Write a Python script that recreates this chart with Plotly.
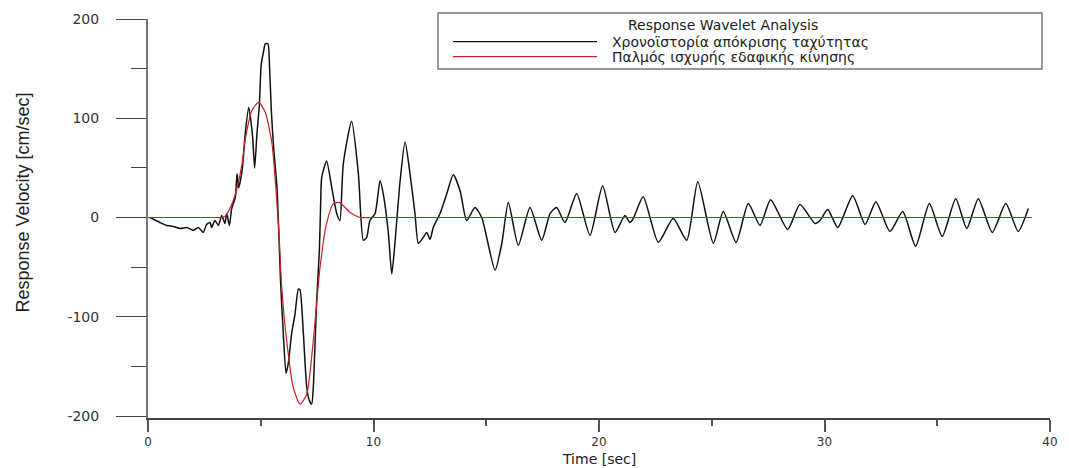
import plotly.graph_objects as go

# Response velocity time history (sec, cm/sec)
resp_time = [0.08, 0.53, 0.83, 1.12, 1.42, 1.72, 2.01, 2.23, 2.45, 2.60, 2.75, 2.82,
             2.97, 3.12, 3.27, 3.41, 3.49, 3.61, 3.71, 3.87, 3.95, 4.02, 4.17, 4.24,
             4.31, 4.47, 4.58, 4.64, 4.73, 4.83, 4.94, 5.02, 5.13, 5.20, 5.32, 5.38,
             5.47, 5.57, 5.72, 5.80, 5.88, 6.00, 6.12, 6.22, 6.37, 6.52, 6.67, 6.74,
             6.89, 7.04, 7.15, 7.26, 7.33, 7.48, 7.60, 7.66, 7.70, 7.92, 8.15, 8.37,
             8.51, 8.66, 9.03, 9.33, 9.55, 9.70, 9.84, 10.07, 10.29, 10.43, 10.66, 10.81,
             10.95, 11.18, 11.40, 11.62, 11.84, 11.99, 12.21, 12.36, 12.51, 12.65, 12.95, 13.25,
             13.54, 13.84, 14.13, 14.50, 14.80, 15.39, 15.69, 15.98, 16.42, 16.94, 17.46, 17.83,
             18.12, 18.49, 19.01, 19.60, 20.16, 20.71, 21.15, 21.37, 21.52, 21.96, 22.63, 23.29,
             23.89, 24.38, 25.07, 25.51, 26.08, 26.62, 27.14, 27.61, 28.37, 28.91, 29.58, 29.80,
             30.14, 30.59, 31.25, 31.80, 32.28, 32.90, 33.47, 34.04, 34.65, 35.22, 35.82, 36.31,
             36.82, 37.44, 38.04, 38.59, 39.04]
resp_vel = [0, -5, -8, -9, -11, -10, -13, -10, -15, -7, -5, -10,
            -3, -8, 2, -6, 4, -8, 9, 20, 44, 30, 47, 64,
            84, 111, 94, 81, 50, 84, 114, 154, 168, 175, 175, 158,
            107, 71, 30, -15, -65, -117, -157, -147, -117, -97, -72, -73,
            -117, -171, -184, -188, -171, -84, -33, 17, 40, 57, 30, 4,
            -3, 54, 97, 44, -23, -20, -3, 4, 37, 24, -16, -57,
            -26, 37, 76, 44, 4, -26, -20, -15, -22, -10, 4, 24,
            43, 27, -3, 10, 0, -53, -26, 15, -28, 10, -23, 4,
            10, -5, 24, -18, 32, -15, 2, -5, -1, 21, -25, -1,
            -23, 36, -26, 6, -25, 14, -8, 18, -12, 13, -6, -3,
            8, -10, 22, -7, 16, -14, 6, -29, 14, -19, 19, -11,
            19, -15, 14, -14, 9]

# Strong ground motion velocity pulse (sec, cm/sec)
pulse_time = [0, 1.5, 3.0, 3.19, 3.41, 3.73, 3.95, 4.17, 4.31, 4.61, 4.91, 5.20,
              5.50, 5.72, 5.80, 5.93, 6.15, 6.44, 6.74, 7.04, 7.33, 7.63, 7.92, 8.22,
              8.51, 8.96, 9.40, 9.90, 20.0, 39.2]
pulse_vel = [0, 0, 0, 0, 1, 14, 30, 54, 78, 108, 116, 106,
             74, 14, -13, -70, -124, -171, -188, -178, -124, -50, -6, 14,
             15, 5, 0, 0, 0, 0]

series_names = ["Χρονοϊστορία απόκρισης ταχύτητας", "Παλμός ισχυρής εδαφικής κίνησης"]
legend_title = "Response Wavelet Analysis"
x_title = "Time [sec]"
y_title = "Response Velocity [cm/sec]"
x_ticks = [0, 10, 20, 30, 40]
x_tick_labels = ["0", "10", "20", "30", "40"]
y_ticks = [-200, -100, 0, 100, 200]
y_tick_labels = ["-200", "-100", "0", "100", "200"]

black = "#111111"
red = "#c8202a"
font = "DejaVu Sans"

fig = go.Figure()
fig.add_trace(go.Scatter(
    x=resp_time, y=resp_vel, mode="lines", name=series_names[0],
    line=dict(color=black, width=1.5, shape="spline", smoothing=0.6),
    showlegend=False,
))
fig.add_trace(go.Scatter(
    x=pulse_time, y=pulse_vel, mode="lines", name=series_names[1],
    line=dict(color=red, width=1.2, shape="spline", smoothing=0.6),
    showlegend=False,
))

# Boxed legend in the upper right
fig.add_shape(type="rect", xref="paper", yref="paper",
              x0=0.3215, x1=0.9911, y0=0.8747, y1=1.015,
              line=dict(color="#777777", width=1.5), fillcolor="white", layer="above")
fig.add_shape(type="line", xref="paper", yref="paper",
              x0=0.3381, x1=0.4978, y0=0.9431, y1=0.9431,
              line=dict(color=black, width=1.2))
fig.add_shape(type="line", xref="paper", yref="paper",
              x0=0.3381, x1=0.4978, y0=0.9055, y1=0.9055,
              line=dict(color=red, width=1.2))
fig.add_annotation(xref="paper", yref="paper", x=0.6375, y=0.985,
                   text=legend_title, showarrow=False, xanchor="center", yanchor="middle",
                   font=dict(family=font, size=14, color="#222222"))
for label, yy in zip(series_names, [0.9431, 0.9055]):
    fig.add_annotation(xref="paper", yref="paper", x=0.5122, y=yy,
                       text=label, showarrow=False, xanchor="left", yanchor="middle",
                       font=dict(family=font, size=14, color="#222222"))

# Axis titles
fig.add_annotation(xref="paper", yref="paper", x=-0.1386, y=0.54,
                   text=y_title, textangle=-90, showarrow=False,
                   xanchor="center", yanchor="middle",
                   font=dict(family="Liberation Sans", size=18, color="#222222"))
fig.add_annotation(xref="paper", yref="paper", x=0.5, y=-0.104,
                   text=x_title, showarrow=False,
                   xanchor="center", yanchor="middle", borderpad=0,
                   font=dict(family=font, size=14, color="#222222"))

fig.update_layout(
    width=1069, height=468,
    margin=dict(l=148, r=19, t=19, b=50),
    paper_bgcolor="white", plot_bgcolor="white",
    showlegend=False,
)
fig.update_xaxes(
    range=[0, 40], tickmode="array", tickvals=x_ticks, ticktext=x_tick_labels,
    ticks="outside", ticklen=12, tickwidth=1.5, tickcolor="#555555",
    minor=dict(tickmode="linear", tick0=0, dtick=5, ticks="outside", ticklen=6,
               tickwidth=1.5, tickcolor="#555555", showgrid=False),
    showline=True, linecolor="#444444", linewidth=1.5,
    showgrid=False, zeroline=False, automargin=False,
    tickfont=dict(family=font, size=12, color="#333333"),
    ticklabelstandoff=0,
)
fig.update_yaxes(
    range=[-202, 200], tickmode="array", tickvals=y_ticks, ticktext=y_tick_labels,
    ticks="outside", ticklen=30, tickwidth=1.2, tickcolor="#444444",
    minor=dict(tickmode="linear", tick0=0, dtick=50, ticks="outside", ticklen=15,
               tickwidth=1.2, tickcolor="#444444", showgrid=False),
    showline=True, linecolor="#777777", linewidth=2,
    showgrid=False, zeroline=False, automargin=False,
    tickfont=dict(family=font, size=14, color="#333333"),
    ticklabelstandoff=14,
)

fig.write_html("out.html")
